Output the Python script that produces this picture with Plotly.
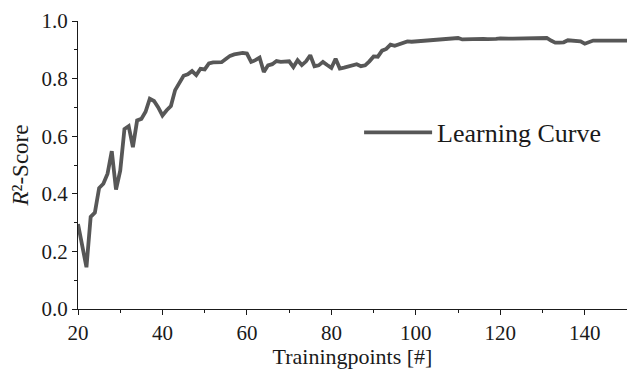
import plotly.graph_objects as go

train_points = list(range(20, 151))
r2_scores = [
    0.295, 0.22, 0.145, 0.32, 0.335, 0.42, 0.435, 0.47, 0.548, 0.415,
    0.48, 0.625, 0.635, 0.562, 0.655, 0.66, 0.685, 0.73, 0.722, 0.70,
    0.672, 0.69, 0.705, 0.76, 0.788, 0.81, 0.815, 0.826, 0.812, 0.834,
    0.832, 0.853, 0.856, 0.856, 0.857, 0.868, 0.879, 0.884, 0.886, 0.889,
    0.887, 0.858, 0.864, 0.873, 0.823, 0.846, 0.85, 0.861, 0.858, 0.858,
    0.86, 0.84, 0.864, 0.847, 0.86, 0.881, 0.843, 0.846, 0.858, 0.847,
    0.837, 0.869, 0.835, 0.838, 0.842, 0.846, 0.85, 0.843, 0.846, 0.86,
    0.877, 0.876, 0.897, 0.903, 0.918, 0.914, 0.919, 0.924, 0.929, 0.928,
    0.929, 0.929, 0.931, 0.932, 0.933, 0.935, 0.935, 0.936, 0.936, 0.939,
    0.941, 0.936, 0.937, 0.938, 0.938, 0.939, 0.938, 0.937, 0.936, 0.938,
    0.940, 0.941, 0.939, 0.939, 0.939, 0.940, 0.940, 0.941, 0.941, 0.942,
    0.942, 0.941, 0.932, 0.925, 0.925, 0.926, 0.933, 0.931, 0.930, 0.929,
    0.921, 0.926, 0.932, 0.932, 0.932, 0.932, 0.930, 0.930, 0.931, 0.932,
    0.932,
]
x_ticks = [20, 40, 60, 80, 100, 120, 140]
y_ticks = [0.0, 0.2, 0.4, 0.6, 0.8, 1.0]
y_tick_text = ["0.0", "0.2", "0.4", "0.6", "0.8", "1.0"]

FONT = "Liberation Serif"
LINE = "#575757"

fig = go.Figure()
fig.add_trace(go.Scatter(
    x=train_points, y=r2_scores, mode="lines", name="Learning Curve",
    line=dict(color=LINE, width=3.8),
))

fig.update_layout(
    width=627, height=369,
    margin=dict(l=78, r=0, t=21, b=60),
    plot_bgcolor="white", paper_bgcolor="white",
    font=dict(family=FONT, color="#1a1a1a", size=22),
    showlegend=True,
    legend=dict(
        x=0.512, y=0.613, xanchor="left", yanchor="middle",
        bgcolor="rgba(0,0,0,0)", borderwidth=0,
        font=dict(family=FONT, size=26, color="#1a1a1a"),
        itemwidth=68,
    ),
    xaxis=dict(
        range=[20, 150], tickvals=x_ticks, ticks="outside", ticklen=5,
        tickwidth=1, tickcolor="#1a1a1a",
        showline=True, linecolor="#1a1a1a", linewidth=1.2,
        showgrid=False, zeroline=False,
        minor=dict(tickvals=[30, 50, 70, 90, 110, 130, 150], ticks="outside",
                   ticklen=3, tickcolor="#1a1a1a"),
        title=dict(text="Trainingpoints [#]", font=dict(size=22), standoff=7),
        tickfont=dict(size=21),
    ),
    yaxis=dict(
        range=[0, 1.0], tickvals=y_ticks, ticktext=y_tick_text,
        ticks="outside", ticklen=5, tickwidth=1, tickcolor="#1a1a1a",
        showline=True, linecolor="#1a1a1a", linewidth=1.2,
        showgrid=False, zeroline=False,
        minor=dict(tickvals=[0.1, 0.3, 0.5, 0.7, 0.9], ticks="outside",
                   ticklen=3, tickcolor="#1a1a1a"),
        title=dict(text="<i>R</i>²-Score", font=dict(size=23), standoff=6),
        tickfont=dict(size=21),
    ),
)

fig.write_html("out.html")
